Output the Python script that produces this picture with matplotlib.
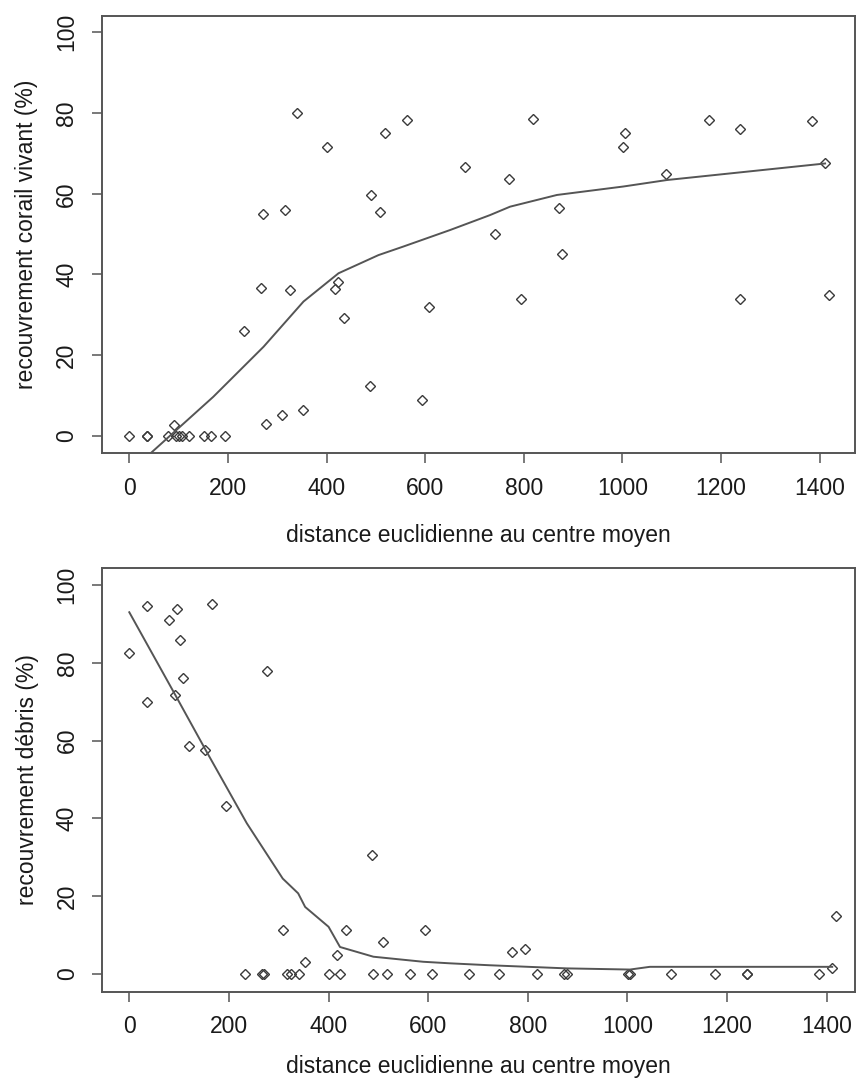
import matplotlib
matplotlib.use("Agg")
import matplotlib.pyplot as plt

# distance of each site to the mean centre
distance = [0, 35, 35, 79, 91, 95, 101, 107, 120, 152, 166, 194,
            233, 266, 270, 276, 309, 316, 325, 340, 352, 401, 416, 423,
            435, 487, 490, 509, 518, 563, 593, 607, 681, 742, 769, 794,
            819, 872, 878, 1002, 1005, 1088, 1175, 1239, 1239, 1384, 1411, 1418]

# live coral cover (%)
corail = [0, 0, 0, 0, 2.7, 0, 0, 0, 0, 0, 0, 0,
          26, 36.7, 55, 2.9, 5.2, 56, 36.1, 80, 6.4, 71.7, 36.4, 38.2,
          29.2, 12.4, 59.8, 55.4, 75, 78.3, 8.8, 32, 66.7, 50, 63.7, 34,
          78.6, 56.5, 45, 71.7, 75, 64.9, 78.3, 76, 34, 78, 67.5, 35]

# rubble cover (%)
debris = [82.6, 94.6, 70, 90.9, 71.8, 93.8, 85.8, 76, 58.5, 57.5, 95, 43.2,
          0, 0, 0, 78, 11.4, 0, 0, 0, 3.1, 0, 4.8, 0,
          11.4, 30.5, 0, 8.2, 0, 0, 11.4, 0, 0, 0, 5.7, 6.5,
          0, 0, 0, 0, 0, 0, 0, 0, 0, 0, 1.6, 14.9]

# smoothed curves
smooth_corail_x = [0, 170, 272, 353, 424, 505, 555, 650, 731, 772, 867, 1002, 1090, 1411]
smooth_corail_y = [-9, 9.7, 22.1, 33.3, 40.3, 44.8, 46.9, 51, 54.7, 56.8, 59.7, 61.8, 63.4, 67.5]

smooth_debris_x = [0, 92, 154, 236, 308, 339, 353, 400, 423, 490, 590, 644, 724, 878, 1005, 1045, 1411]
smooth_debris_y = [93, 71.8, 57.4, 38.7, 24.5, 20.7, 17.2, 12.1, 6.9, 4.4, 3.1, 2.7, 2.2, 1.4, 1.1, 1.8, 1.8]

ticks_x = [0, 200, 400, 600, 800, 1000, 1200, 1400]
ticks_y = [0, 20, 40, 60, 80, 100]

plt.rcParams['font.family'] = ['Liberation Sans', 'DejaVu Sans']
grey = '#555555'
ink = '#1a1a1a'

fig = plt.figure(figsize=(8.56, 10.79), dpi=100)
ax1 = fig.add_axes([0.1188, 0.5799, 0.88, 0.4055])
ax2 = fig.add_axes([0.1195, 0.0809, 0.8793, 0.3924])

panels = [
    (ax1, corail, smooth_corail_x, smooth_corail_y, 'recouvrement corail vivant (%)', (-56.4, 1471.6), (-4.3, 104.1), 17),
    (ax2, debris, smooth_debris_x, smooth_debris_y, 'recouvrement débris (%)', (-54.2, 1456.7), (-4.6, 104.3), 12),
]

for ax, values, sx, sy, ylab, xl, yl, xpad in panels:
    ax.plot(distance, values, linestyle='none', marker='D', markersize=5,
            markerfacecolor='none', markeredgecolor='#3a3a3a', markeredgewidth=1.0)
    ax.plot(sx, sy, color=grey, linewidth=1.4)
    ax.set_xlim(*xl)
    ax.set_ylim(*yl)
    ax.set_xticks(ticks_x)
    ax.set_yticks(ticks_y)
    ax.tick_params(direction='out', length=7, width=1.1, color=grey,
                   labelsize=16.5, labelcolor=ink, pad=10)
    for lab in ax.get_yticklabels():
        lab.set_rotation(90)
        lab.set_va('center')
    for sp in ax.spines.values():
        sp.set_color(grey)
        sp.set_linewidth(1.4)
    ax.set_xlabel('distance euclidienne au centre moyen', fontsize=16.5,
                  color=ink, labelpad=xpad)
    ax.set_ylabel(ylab, fontsize=16.5, color=ink, va='center')
    ax.yaxis.set_label_coords(-0.1, 0.5)

fig.savefig('out.png', dpi=100)
